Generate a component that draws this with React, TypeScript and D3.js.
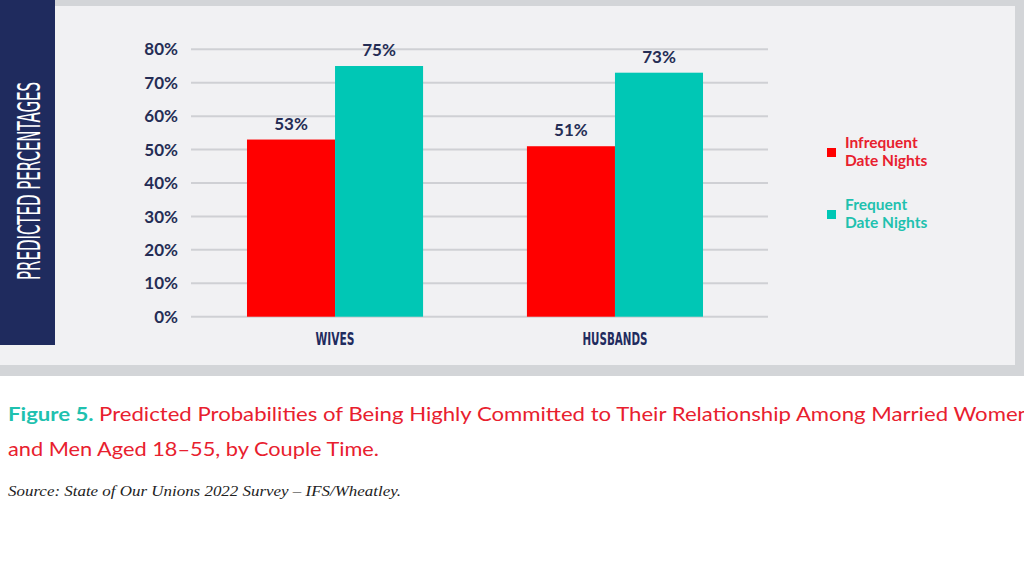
import * as d3 from 'd3'

const groups = ['WIVES', 'HUSBANDS']
const seriesNames = ['Infrequent Date Nights', 'Frequent Date Nights']
const infrequent = [53, 51]
const frequent = [75, 73]
const yTicks = [0, 10, 20, 30, 40, 50, 60, 70, 80]

const RED = '#ff0000'
const TEAL = '#00c7b5'
const NAVY = '#1f2b5e'
const INK = '#252d55'

const W = 1024
const H = 576

const plotLeft = 191
const plotRight = 768
const plotTop = 49.3
const plotBottom = 316.7

export default function App() {
  const x0 = d3.scaleBand<string>()
    .domain(groups)
    .range([191, 759])
    .paddingInner(0.371)
    .paddingOuter(0.2)

  const x1 = d3.scaleBand<string>()
    .domain(seriesNames)
    .range([0, x0.bandwidth()])

  const y = d3.scaleLinear()
    .domain([0, 80])
    .range([plotBottom, plotTop])

  const color = d3.scaleOrdinal<string, string>()
    .domain(seriesNames)
    .range([RED, TEAL])

  const rows = groups.map((g, i) => ({
    group: g,
    values: [
      { name: seriesNames[0], value: infrequent[i] },
      { name: seriesNames[1], value: frequent[i] },
    ],
  }))

  const legendText = [
    ['Infrequent', 'Date Nights'],
    ['Frequent', 'Date Nights'],
  ]
  const legendColor = ['#e8202e', '#1fc1af']

  return (
    <svg
      width={W}
      height={H}
      style={{ position: 'absolute', left: 0, top: 0, background: '#ffffff' }}
    >
      {/* frame */}
      <rect x={0} y={0} width={W} height={376} fill="#d3d5d8" />
      <rect x={55} y={6} width={960} height={359} fill="#f1f1f3" />
      <rect x={0} y={345} width={58} height={20} fill="#f1f1f3" />
      <rect x={0} y={0} width={55} height={345} fill={NAVY} />
      <text
        transform="translate(40,181) rotate(-90) scale(1,1.55)"
        textAnchor="middle"
        fill="#ffffff"
        fontFamily="'DejaVu Sans Condensed', 'Liberation Sans Narrow', sans-serif"
        fontSize={21}
        textLength={198}
        lengthAdjust="spacingAndGlyphs"
      >
        PREDICTED PERCENTAGES
      </text>

      {/* grid + y ticks */}
      {yTicks.map(t => (
        <g key={t}>
          <line
            x1={plotLeft}
            x2={plotRight}
            y1={y(t)}
            y2={y(t)}
            stroke="#cfd0d4"
            strokeWidth={2}
          />
          <text
            x={178}
            y={y(t)}
            dy="0.36em"
            textAnchor="end"
            fill={INK}
            fontFamily="Lato, 'Noto Sans', sans-serif"
            fontWeight={700}
            fontSize={17}
          >
            {t}%
          </text>
        </g>
      ))}

      {/* bars */}
      {rows.map(r => (
        <g key={r.group} transform={`translate(${x0(r.group)},0)`}>
          {r.values.map(v => (
            <g key={v.name}>
              <rect
                x={x1(v.name)}
                y={y(v.value)}
                width={x1.bandwidth()}
                height={plotBottom - y(v.value)}
                fill={color(v.name)}
              />
              <text
                x={(x1(v.name) || 0) + x1.bandwidth() / 2}
                y={y(v.value) - 10}
                textAnchor="middle"
                fill={INK}
                fontFamily="Lato, 'Noto Sans', sans-serif"
                fontWeight={700}
                fontSize={17}
              >
                {v.value}%
              </text>
            </g>
          ))}
          <text
            x={x0.bandwidth() / 2}
            y={345}
            textAnchor="middle"
            fill={NAVY}
            fontFamily="'DejaVu Sans Condensed', 'Liberation Sans Narrow', sans-serif"
            fontWeight={700}
            fontSize={17}
            textLength={r.group === 'WIVES' ? 39 : 65}
            lengthAdjust="spacingAndGlyphs"
          >
            {r.group}
          </text>
        </g>
      ))}

      {/* legend */}
      {legendText.map((lines, i) => (
        <g key={i} transform={`translate(827,${148 + i * 62})`}>
          <rect x={0} y={0} width={9} height={9} fill={color(seriesNames[i])} />
          <text
            fill={legendColor[i]}
            fontFamily="Lato, 'Noto Sans', sans-serif"
            fontWeight={700}
            fontSize={15.5}
          >
            <tspan x={18} y={0}>{lines[0]}</tspan>
            <tspan x={18} y={18}>{lines[1]}</tspan>
          </text>
        </g>
      ))}

      {/* caption */}
      <text
        x={8}
        y={421}
        fontFamily="Lato, 'Open Sans', sans-serif"
        fontSize={19}
        textLength={1022}
        lengthAdjust="spacingAndGlyphs"
      >
        <tspan fill="#1fc1af" fontWeight={700}>Figure 5. </tspan>
        <tspan fill="#e8202e">
          Predicted Probabilities of Being Highly Committed to Their Relationship Among Married Women
        </tspan>
      </text>
      <text
        x={8}
        y={456}
        fill="#e8202e"
        fontFamily="Lato, 'Open Sans', sans-serif"
        fontSize={19}
        textLength={371}
        lengthAdjust="spacingAndGlyphs"
      >
        and Men Aged 18–55, by Couple Time.
      </text>
      <text
        x={8}
        y={496}
        fill="#222222"
        fontFamily="'Liberation Serif', 'DejaVu Serif', serif"
        fontStyle="italic"
        fontSize={15}
        textLength={393}
        lengthAdjust="spacingAndGlyphs"
      >
        Source: State of Our Unions 2022 Survey – IFS/Wheatley.
      </text>
    </svg>
  )
}
